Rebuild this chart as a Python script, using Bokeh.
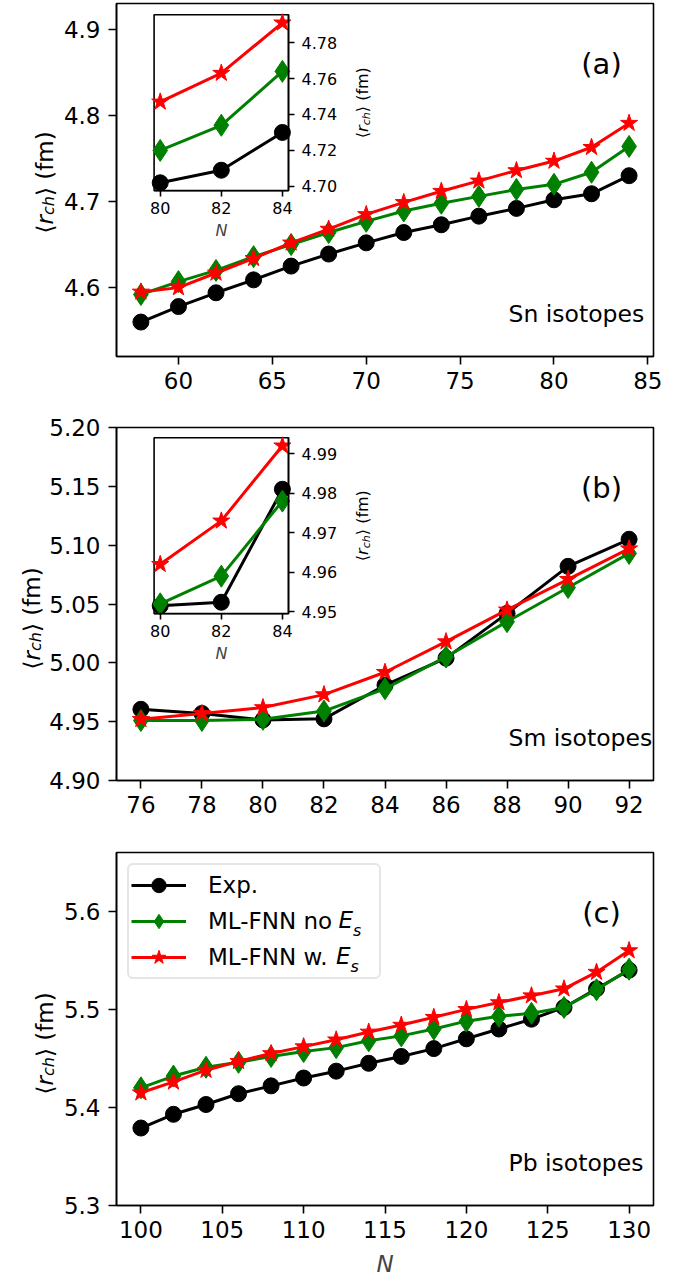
import numpy as np
from bokeh.plotting import figure
from bokeh.models import (Range1d, FixedTicker, PrintfTickFormatter, Label,
                          Legend, LegendItem, LinearAxis)
from bokeh.layouts import column, row
from bokeh.embed import file_html
from bokeh.resources import INLINE

FONT = "DejaVu Sans"

# ---------------- data ----------------
sn_N = [58, 60, 62, 64, 66, 68, 70, 72, 74, 76, 78, 80, 82, 84]
sn_exp = [4.560, 4.578, 4.594, 4.609, 4.625, 4.639, 4.652, 4.664, 4.673, 4.683, 4.692, 4.702, 4.709, 4.730]
sn_noes = [4.592, 4.607, 4.620, 4.636, 4.650, 4.664, 4.677, 4.689, 4.698, 4.706, 4.714, 4.720, 4.734, 4.764]
sn_wes = [4.595, 4.600, 4.617, 4.634, 4.652, 4.668, 4.685, 4.699, 4.712, 4.724, 4.736, 4.747, 4.763, 4.791]

sm_N = [76, 78, 80, 82, 84, 86, 88, 90, 92]
sm_exp = [4.9605, 4.957, 4.9515, 4.9524, 4.981, 5.004, 5.042, 5.082, 5.105]
sm_noes = [4.951, 4.951, 4.952, 4.959, 4.978, 5.005, 5.035, 5.064, 5.093]
sm_wes = [4.952, 4.957, 4.962, 4.973, 4.992, 5.018, 5.045, 5.071, 5.097]

pb_N = [100, 102, 104, 106, 108, 110, 112, 114, 116, 118, 120, 122, 124, 126, 128, 130]
pb_exp = [5.379, 5.393, 5.403, 5.414, 5.422, 5.430, 5.437, 5.445, 5.452, 5.460, 5.470, 5.480, 5.490, 5.502, 5.521, 5.540]
pb_noes = [5.420, 5.432, 5.441, 5.446, 5.452, 5.457, 5.461, 5.468, 5.473, 5.480, 5.488, 5.493, 5.496, 5.502, 5.520, 5.541]
pb_wes = [5.415, 5.426, 5.438, 5.447, 5.455, 5.462, 5.469, 5.477, 5.484, 5.492, 5.500, 5.507, 5.514, 5.521, 5.538, 5.560]

inset_N = [80, 82, 84]

sn_xticks = [60, 65, 70, 75, 80, 85]
sn_yticks = [4.6, 4.7, 4.8, 4.9]
sm_xticks = [76, 78, 80, 82, 84, 86, 88, 90, 92]
sm_yticks = [4.90, 4.95, 5.00, 5.05, 5.10, 5.15, 5.20]
pb_xticks = [100, 105, 110, 115, 120, 125, 130]
pb_yticks = [5.3, 5.4, 5.5, 5.6]
sn_inset_yticks = [4.70, 4.72, 4.74, 4.76, 4.78]
sm_inset_yticks = [4.95, 4.96, 4.97, 4.98, 4.99]

legend_labels = ["Exp.", "ML-FNN no", "ML-FNN w."]
panel_tags = ["(a)", "(b)", "(c)"]
nuclei = ["Sn isotopes", "Sm isotopes", "Pb isotopes"]

colors = ["black", "green", "red"]
markers = ["circle", "diamond", "star"]
msizes = [16, 22, 18]

FW, FH = 537, 353


def style_axis(ax, fs, tick_out, standoff, lw=1.6):
    ax.axis_line_color = "black"
    ax.axis_line_width = lw
    ax.major_tick_line_color = "black"
    ax.major_tick_line_width = lw
    ax.major_tick_out = tick_out
    ax.major_tick_in = 0
    ax.minor_tick_line_color = None
    ax.major_label_text_font = FONT
    ax.major_label_text_font_size = fs
    ax.major_label_text_color = "black"
    ax.major_label_standoff = standoff


def draw_series(p, N, series, **kw):
    rs = []
    for ys, c, m, s in zip(series, colors, markers, msizes):
        l = p.line(N, ys, line_color=c, line_width=3, **kw)
        sc = p.scatter(N, ys, marker=m, size=s, fill_color=c, line_color=c, **kw)
        rs.append([l, sc])
    return rs


def ylabel(p, x_base, y_start, fs, sfs, shift, units="screen"):
    k = fs / 23.0
    w1, wr, wch = 9.0 * k, 9.5 * k, 18.9 * k
    pieces = [("\u27e8", y_start, "normal", fs, 0),
              ("r", y_start + w1, "italic", fs, 0),
              ("ch", y_start + w1 + wr, "italic", sfs, shift),
              ("\u27e9 (fm)", y_start + w1 + wr + wch, "normal", fs, 0)]
    for txt, yy, st, f, dx in pieces:
        p.add_layout(Label(x=x_base + dx, y=yy, x_units=units, y_units=units,
                           text=txt, angle=np.pi / 2, text_font=FONT,
                           text_font_size=f"{f}px", text_font_style=st,
                           text_align="left", text_baseline="alphabetic",
                           text_color="black"))


def label_fig(width, height, x_base, y_start):
    # a blank strip whose frame is the whole canvas: data units == pixels from bottom-left
    q = figure(width=width, height=height, frame_width=width, frame_height=height,
               x_range=Range1d(0, width), y_range=Range1d(0, height), title=None,
               x_axis_type=None, y_axis_type=None, min_border=0,
               output_backend="svg", toolbar_location=None)
    q.xgrid.visible = False
    q.ygrid.visible = False
    q.outline_line_color = None
    q.background_fill_color = "white"
    q.border_fill_color = "white"
    ylabel(q, x_base, y_start, 23, 16, 4, units="data")
    return q


def add_inset(p, N, series, yticks, box_top):
    # inset box in frame pixels: from frame left 37.6 -> 172.0 ; from frame top box_top -> box_top+176
    x0, x1 = 79.8, 84.2
    allv = np.concatenate([np.asarray(s, dtype=float) for s in series])
    lo, hi = allv.min(), allv.max()
    pad = 0.05 * (hi - lo)
    y0, y1 = lo - pad, hi + pad
    u0, u1 = 37.6, 172.0
    v0, v1 = FH - (box_top + 176.0), FH - box_top
    sx = (u1 - u0) / (x1 - x0)
    sy = (v1 - v0) / (y1 - y0)
    xs = x0 - u0 / sx
    ys_ = y0 - v0 / sy
    p.extra_x_ranges = {"ix": Range1d(xs, xs + FW / sx)}
    p.extra_y_ranges = {"iy": Range1d(ys_, ys_ + FH / sy)}
    p.quad(left=[x0], right=[x1], bottom=[y0], top=[y1], fill_color="white",
           line_color="black", line_width=1.6, x_range_name="ix", y_range_name="iy")
    draw_series(p, N, series, x_range_name="ix", y_range_name="iy")
    ay = LinearAxis(x_range_name="ix", y_range_name="iy", fixed_location=x1, bounds=(y0, y1),
                    ticker=FixedTicker(ticks=yticks), formatter=PrintfTickFormatter(format="%.2f"))
    style_axis(ay, "16px", 6, 7)
    p.add_layout(ay, "right")
    ax = LinearAxis(x_range_name="ix", y_range_name="iy", fixed_location=y0, bounds=(x0, x1),
                    ticker=FixedTicker(ticks=inset_N), formatter=PrintfTickFormatter(format="%d"))
    style_axis(ax, "16px", 6, 5)
    ax.axis_label = "N"
    ax.axis_label_text_font = FONT
    ax.axis_label_text_font_size = "16px"
    ax.axis_label_text_font_style = "italic"
    ax.axis_label_standoff = 4
    p.add_layout(ax, "below")
    center = (v0 + v1) / 2.0
    ylabel(p, 246.0, center - 35.4, 16, 11, 3.5)


def make_main(N, series, xr, yr, xticks, yticks, yfmt, mbl, mbt, mbb, tag, nucleus):
    p = figure(width=mbl + FW + 38, height=mbt + FH + mbb, frame_width=FW, frame_height=FH,
               x_range=Range1d(*xr), y_range=Range1d(*yr),
               min_border_left=mbl, min_border_right=38,
               min_border_top=mbt, min_border_bottom=mbb,
               output_backend="svg", toolbar_location=None)
    p.xgrid.visible = False
    p.ygrid.visible = False
    p.outline_line_color = "black"
    p.outline_line_width = 1.6
    p.outline_line_alpha = 1.0
    p.background_fill_color = "white"
    p.border_fill_color = "white"
    p.xaxis.ticker = FixedTicker(ticks=xticks)
    p.yaxis.ticker = FixedTicker(ticks=yticks)
    p.xaxis.formatter = PrintfTickFormatter(format="%d")
    p.yaxis.formatter = PrintfTickFormatter(format=yfmt)
    style_axis(p.xaxis[0], "23px", 8, 7)
    style_axis(p.yaxis[0], "23px", 8, 8)
    rs = draw_series(p, N, series)
    p.add_layout(Label(x=485, y=293, x_units="screen", y_units="screen", text=tag,
                       text_font=FONT, text_font_size="29px", text_align="center",
                       text_baseline="middle", text_color="black"))
    p.add_layout(Label(x=392, y=43, x_units="screen", y_units="screen", text=nucleus,
                       text_font=FONT, text_font_size="23.5px", text_align="left",
                       text_baseline="middle", text_color="black"))
    return p, rs


def sub(N, vals):
    return [v for n, v in zip(N, vals) if n in inset_N]


# vertical borders (top, bottom) of the three panels; frames are 353 px tall
MBT_A, MBB_A = 3, 56
MBT_B, MBB_B = 15, 57
MBT_C, MBB_C = 15, 69

# ---------------- panel (a) ----------------
pa, _ = make_main(sn_N, [sn_exp, sn_noes, sn_wes], (56.7, 85.3), (4.52, 4.93),
                  sn_xticks, sn_yticks, "%.1f", 58, MBT_A, MBB_A, panel_tags[0], nuclei[0])
add_inset(pa, inset_N, [sub(sn_N, sn_exp), sub(sn_N, sn_noes), sub(sn_N, sn_wes)],
          sn_inset_yticks, 11.3)
la = label_fig(58, MBT_A + FH + MBB_A, 44, MBB_A + 126)

# ---------------- panel (b) ----------------
pb, _ = make_main(sm_N, [sm_exp, sm_noes, sm_wes], (75.2, 92.8), (4.90, 5.20),
                  sm_xticks, sm_yticks, "%.2f", 72, MBT_B, MBB_B, panel_tags[1], nuclei[1])
add_inset(pb, inset_N, [sub(sm_N, sm_exp), sub(sm_N, sm_noes), sub(sm_N, sm_wes)],
          sm_inset_yticks, 10.3)
lb = label_fig(44, MBT_B + FH + MBB_B, 31, MBB_B + 126)

# ---------------- panel (c) ----------------
pc, rc = make_main(pb_N, [pb_exp, pb_noes, pb_wes], (98.5, 131.5), (5.30, 5.66),
                   pb_xticks, pb_yticks, "%.1f", 58, MBT_C, MBB_C, panel_tags[2], nuclei[2])
pc.xaxis.axis_label = "N"
pc.xaxis.axis_label_text_font = FONT
pc.xaxis.axis_label_text_font_size = "23px"
pc.xaxis.axis_label_text_font_style = "italic"
pc.xaxis.axis_label_standoff = 10
lc = label_fig(58, MBT_C + FH + MBB_C, 44, MBB_C + 126)

# legend: rows 36 px apart, box 11 px inside the frame's top-left corner
LEG_MARGIN, LEG_PAD, ROW_H = 11, 2, 36
leg = Legend(items=[LegendItem(label=lab, renderers=r) for lab, r in zip(legend_labels, rc)],
             location="top_left", margin=LEG_MARGIN, padding=LEG_PAD, spacing=0,
             glyph_width=55, glyph_height=ROW_H, label_height=ROW_H, label_width=169,
             label_standoff=22, label_text_font=FONT, label_text_font_size="23px",
             label_text_color="black", border_line_color="#cccccc", border_line_width=2,
             background_fill_color="white", background_fill_alpha=0.0)
if "border_radius" in Legend.properties():
    leg.border_radius = 6
pc.add_layout(leg)

# subscripted E_s after legend entries 2 and 3
label_x0 = LEG_MARGIN + LEG_PAD + 55 + 22
for k, w in [(1, 131.9), (2, 129.4)]:
    row_y = FH - (LEG_MARGIN + LEG_PAD + ROW_H / 2 + ROW_H * k)
    ex = label_x0 + w
    pc.add_layout(Label(x=ex, y=row_y, x_units="screen", y_units="screen", text="E",
                        text_font=FONT, text_font_size="23px", text_font_style="italic",
                        text_align="left", text_baseline="middle", text_color="black"))
    pc.add_layout(Label(x=ex + 14.5, y=row_y - 11.4, x_units="screen", y_units="screen",
                        text="s", text_font=FONT, text_font_size="16px",
                        text_font_style="italic", text_align="left",
                        text_baseline="alphabetic", text_color="black"))

layout = column(row(la, pa, spacing=0), row(lb, pb, spacing=0), row(lc, pc, spacing=0), spacing=0)
open("out.html", "w").write(file_html(layout, INLINE))
